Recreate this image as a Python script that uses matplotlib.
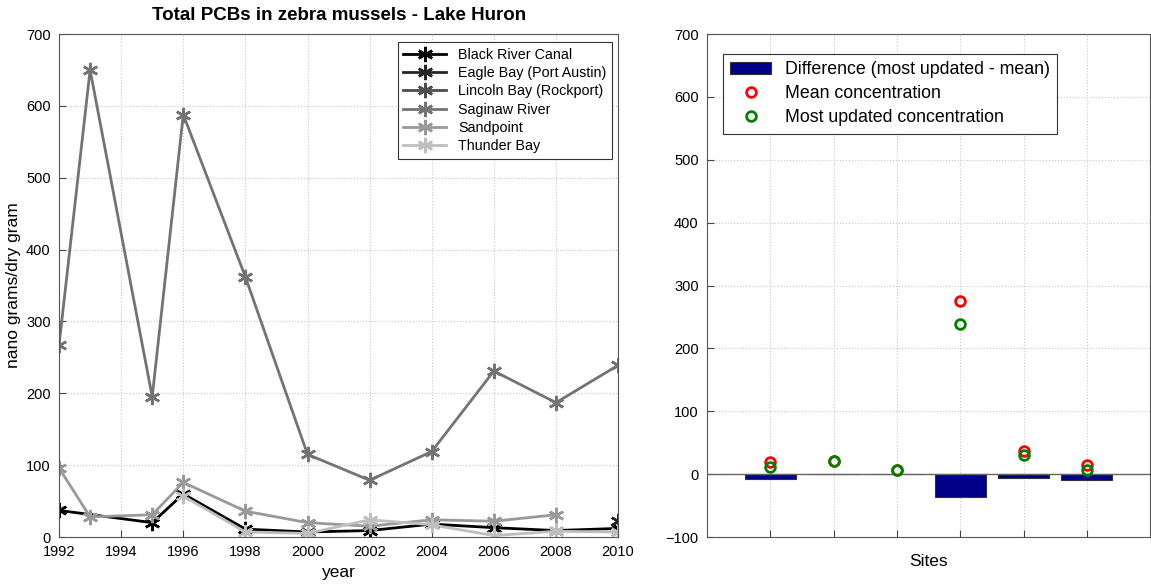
import numpy as np
import matplotlib.pyplot as plt

plt.rcParams['font.family'] = ['Liberation Sans', 'DejaVu Sans']

# left panel: total PCBs by site and year
sites = ['Black River Canal', 'Eagle Bay (Port Austin)', 'Lincoln Bay (Rockport)',
         'Saginaw River', 'Sandpoint', 'Thunder Bay']
black_years = [1992, 1995, 1996, 1998, 2000, 2002, 2004, 2006, 2008, 2010]
black_vals = [37, 20, 60, 11, 7, 9, 18, 13, 9, 12]
eagle_years = [2010]
eagle_vals = [22]
lincoln_years = [2000]
lincoln_vals = [7]
saginaw_years = [1992, 1993, 1995, 1996, 1998, 2000, 2002, 2004, 2006, 2008, 2010]
saginaw_vals = [267, 650, 195, 588, 362, 115, 79, 119, 231, 187, 239]
sand_years = [1992, 1993, 1995, 1996, 1998, 2000, 2002, 2004, 2006, 2008]
sand_vals = [96, 28, 31, 76, 36, 20, 15, 24, 22, 31]
thunder_years = [1996, 1998, 2000, 2002, 2004, 2006, 2008, 2010]
thunder_vals = [57, 7, 5, 24, 17, 2, 8, 7]

# right panel: per-site summary
mean_conc = [20, 21, 7, 275, 37, 15]
updated_conc = [12, 21, 7, 239, 31, 6]

fig = plt.figure(figsize=(11.51, 5.88), dpi=100)
ax1 = fig.add_axes([0.0513, 0.0867, 0.4857, 0.8554])
ax2 = fig.add_axes([0.6143, 0.0867, 0.3849, 0.8554])

series = [(black_years, black_vals), (eagle_years, eagle_vals), (lincoln_years, lincoln_vals),
          (saginaw_years, saginaw_vals), (sand_years, sand_vals), (thunder_years, thunder_vals)]
grays = ['0.0', '0.15', '0.3', '0.45', '0.6', '0.75']
asterisk = (6, 2, 0)
for (yrs, vals), name, c in zip(series, sites, grays):
    ax1.plot(yrs, vals, color=c, linestyle='-', linewidth=2, marker=asterisk,
             markersize=11, markeredgewidth=1.8, label=name)

for ax in (ax1, ax2):
    ax.grid(True, linestyle=':', color='#c8c8c8', linewidth=0.8)
    ax.tick_params(direction='in', labelsize=10.5, length=5, color='#444444', pad=6)
    for s in ax.spines.values():
        s.set_color('#555555')

ax1.set_xlim(1992, 2010)
ax1.set_ylim(0, 700)
ax1.set_xticks(np.arange(1992, 2011, 2))
ax1.set_yticks(np.arange(0, 701, 100))
ax1.set_xlabel('year', fontsize=12.5)
ax1.set_ylabel('nano grams/dry gram', fontsize=12.5)
ax1.set_title('Total PCBs in zebra mussels - Lake Huron', fontsize=13.5, fontweight='bold', pad=10)
leg1 = ax1.legend(loc='upper right', fontsize=10.3, handlelength=3, fancybox=False,
                  edgecolor='#333333', framealpha=1, borderpad=0.4, labelspacing=0.3,
                  borderaxespad=0, bbox_to_anchor=(0.989, 0.984))
leg1.get_frame().set_linewidth(0.8)

x = np.arange(1, len(mean_conc) + 1)
diff = np.array(updated_conc) - np.array(mean_conc)
bars = ax2.bar(x, diff, width=0.8, color='#00008b', edgecolor='#333333', linewidth=0.8,
               label='Difference (most updated - mean)', zorder=2)
ax2.axhline(0, color='#666666', linewidth=1, zorder=3)
m1, = ax2.plot(x, mean_conc, 'o', markerfacecolor='none', markeredgecolor='red',
               markersize=7, markeredgewidth=2, label='Mean concentration', zorder=4)
m2, = ax2.plot(x, updated_conc, 'o', markerfacecolor='none', markeredgecolor='green',
               markersize=7, markeredgewidth=2, label='Most updated concentration', zorder=5)
ax2.set_xlim(0, 7)
ax2.set_ylim(-100, 700)
ax2.set_xticks(x)
ax2.set_xticklabels([''] * len(x))
ax2.set_yticks(np.arange(-100, 701, 100))
ax2.set_xlabel('Sites', fontsize=12.5, labelpad=6)
leg2 = ax2.legend([bars, m1, m2], [bars.get_label(), m1.get_label(), m2.get_label()],
                  loc='upper left', fontsize=12.8, fancybox=False, edgecolor='#333333',
                  framealpha=1, borderpad=0.4, labelspacing=0.4, handlelength=2.3,
                  borderaxespad=0, bbox_to_anchor=(0.036, 0.96))
leg2.get_frame().set_linewidth(0.8)

fig.savefig('out.png', dpi=100)
